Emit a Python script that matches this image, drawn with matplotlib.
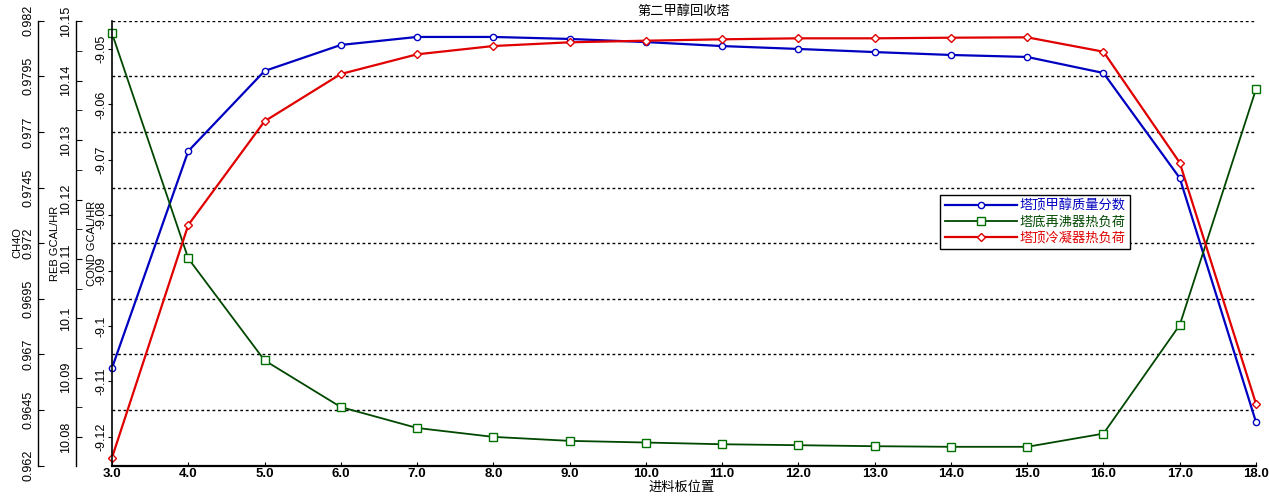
import numpy as np
import matplotlib
matplotlib.use("Agg")
import matplotlib.pyplot as plt
from matplotlib.ticker import MultipleLocator, FixedLocator, FormatStrFormatter, FuncFormatter

plt.rcParams['font.family'] = ['Liberation Sans', 'Noto Sans CJK SC']

# data
stage = np.arange(3, 19)
ch4o = [0.96639, 0.97614, 0.97974, 0.98091, 0.98127, 0.98127, 0.98118, 0.98104,
        0.98086, 0.98073, 0.98059, 0.98046, 0.98037, 0.97965, 0.97493, 0.96396]
reb = [10.14799, 10.11008, 10.09293, 10.08507, 10.08155, 10.08005, 10.07938, 10.0791,
       10.07881, 10.07865, 10.07848, 10.07838, 10.07838, 10.0806, 10.09888, 10.13858]
cond = [-9.12377, -9.08177, -9.06305, -9.05451, -9.05096, -9.04946, -9.04879, -9.0485,
        -9.04825, -9.04807, -9.04807, -9.04796, -9.04789, -9.05049, -9.07052, -9.11403]

ch4o_ticks = [0.962, 0.9645, 0.967, 0.9695, 0.972, 0.9745, 0.977, 0.9795, 0.982]
reb_ticks = [10.08, 10.09, 10.10, 10.11, 10.12, 10.13, 10.14, 10.15]
cond_ticks = [-9.12, -9.11, -9.10, -9.09, -9.08, -9.07, -9.06, -9.05]

title = '第二甲醇回收塔'
xlabel = '进料板位置'
names = ['塔顶甲醇质量分数', '塔底再沸器热负荷', '塔顶冷凝器热负荷']

blue = '#0000c0'
green = '#004800'
red = '#e00000'

W, H = 1269, 500
fig = plt.figure(figsize=(W / 100, H / 100), dpi=100)
L, R, T, B = 112, 1256, 20.7, 465.7
ax = fig.add_axes([L / W, 1 - B / H, (R - L) / W, (B - T) / H])

def g(v, pos):
    return '%g' % round(v, 6)

# CH4O axis (base, carries the grid)
ax.set_xlim(3, 18)
ax.set_ylim(0.962, 0.982)
ax.yaxis.set_major_locator(FixedLocator(ch4o_ticks))
ax.yaxis.set_major_formatter(FuncFormatter(g))
ax.spines['left'].set_position(('axes', (38 - L) / (R - L)))
ax.spines['top'].set_visible(False)
ax.spines['right'].set_visible(False)
ax.spines['bottom'].set_linewidth(1.6)
ax.spines['left'].set_linewidth(1.0)
ax.grid(axis='y', color='black', linestyle=(0, (2, 2)), linewidth=1.0)
ax.set_axisbelow(True)
ax.tick_params(axis='y', direction='in', length=4, labelsize=9, labelrotation=90, pad=2.5)
ax.xaxis.set_major_locator(MultipleLocator(1))
ax.xaxis.set_major_formatter(FormatStrFormatter('%.1f'))
ax.tick_params(axis='x', direction='in', length=3, labelsize=9.5, pad=2)
for t in ax.get_xticklabels():
    t.set_fontweight('bold')
l1, = ax.plot(stage, ch4o, color=blue, lw=1.6, marker='o', ms=4.5,
              mfc='white', mec=blue, mew=1.0, clip_on=False, zorder=3)

# REB axis
ax3 = ax.twinx()
ax3.set_ylim(10.0752, 10.1501)
ax3.yaxis.tick_left()
ax3.yaxis.set_label_position('left')
for s in ['top', 'right', 'bottom']:
    ax3.spines[s].set_visible(False)
ax3.spines['left'].set_position(('axes', (76 - L) / (R - L)))
ax3.spines['left'].set_linewidth(1.0)
ax3.yaxis.set_major_locator(FixedLocator(reb_ticks))
ax3.yaxis.set_minor_locator(MultipleLocator(0.005))
ax3.yaxis.set_major_formatter(FuncFormatter(g))
ax3.tick_params(axis='y', which='both', direction='in', length=4, labelsize=9,
                labelrotation=90, pad=2.5)
l2, = ax3.plot(stage, reb, color=green, lw=1.3, marker='s', ms=5.5,
               mfc='white', mec='#007000', mew=1.0, clip_on=False)

# COND axis (spine on the plot edge)
ax2 = ax.twinx()
ax2.set_ylim(-9.12522, -9.04489)
ax2.yaxis.tick_left()
ax2.yaxis.set_label_position('left')
for s in ['top', 'right', 'bottom']:
    ax2.spines[s].set_visible(False)
ax2.spines['left'].set_linewidth(1.2)
ax2.yaxis.set_major_locator(FixedLocator(cond_ticks))
ax2.yaxis.set_major_formatter(FuncFormatter(g))
ax2.tick_params(axis='y', direction='out', length=3, labelsize=9, labelrotation=90, pad=0.5)
l3, = ax2.plot(stage, cond, color=red, lw=1.6, marker='D', ms=4.2,
               mfc='white', mec=red, mew=1.0, clip_on=False)

for a in (ax, ax2, ax3):
    for t in a.get_yticklabels():
        t.set_va('center')

fig.text(17 / W, 1 - 243 / H, 'CH4O', rotation=90, ha='center', va='center', fontsize=8)
fig.text(55 / W, 1 - 243 / H, 'REB GCAL/HR', rotation=90, ha='center', va='center', fontsize=8)
fig.text(92 / W, 1 - 243 / H, 'COND GCAL/HR', rotation=90, ha='center', va='center', fontsize=8)
fig.text(684 / W, 1 - 12 / H, title, ha='center', va='center', fontsize=9.5)
fig.text(682 / W, 1 - 488 / H, xlabel, ha='center', va='center', fontsize=9.5)

leg = ax2.legend([l1, l2, l3], names, loc='upper left',
                 bbox_to_anchor=(940 / W, 1 - 195 / H), bbox_transform=fig.transFigure,
                 borderaxespad=0, fancybox=False, framealpha=1, edgecolor='black',
                 fontsize=9.5, handlelength=5.5, handletextpad=0.2, borderpad=0.35,
                 labelspacing=0.25, numpoints=1)
leg.get_frame().set_linewidth(1.0)
for txt, c in zip(leg.get_texts(), [blue, green, red]):
    txt.set_color(c)

fig.savefig('out.png', dpi=100)
